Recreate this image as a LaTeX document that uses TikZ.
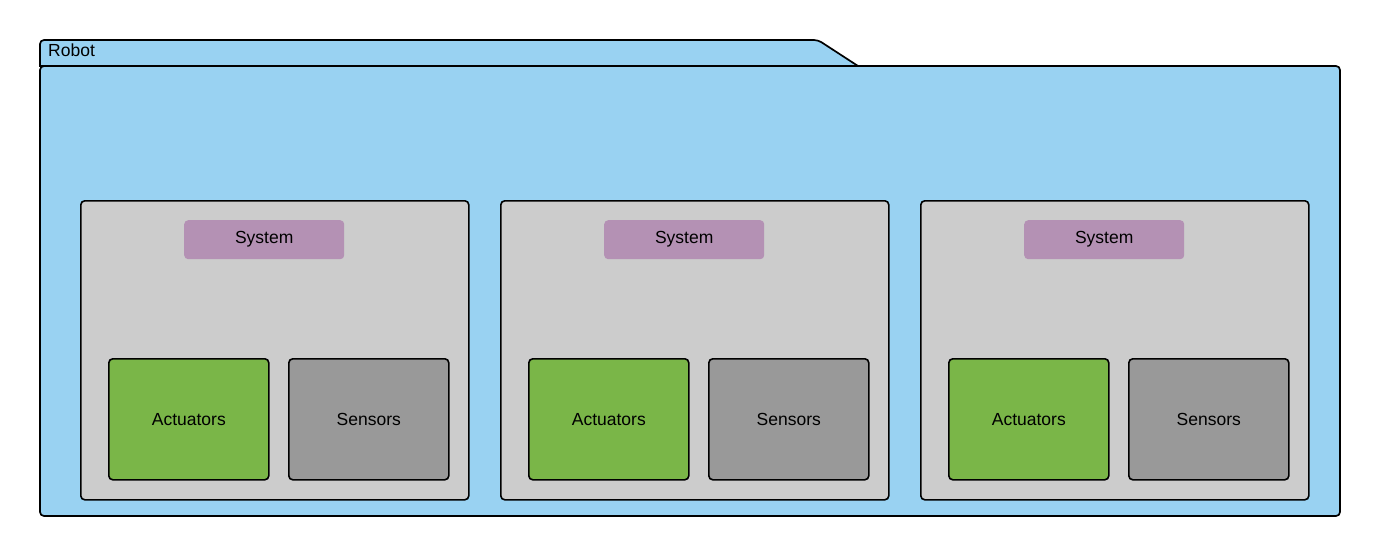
\documentclass[tikz,border=0pt]{standalone}
\usepackage{fontspec}
\setmainfont{Liberation Sans}
\usetikzlibrary{positioning}

\definecolor{robotblue}{HTML}{99D2F2}
\definecolor{panelgray}{HTML}{CCCCCC}
\definecolor{systempurple}{HTML}{B491B4}
\definecolor{actgreen}{HTML}{7AB648}
\definecolor{sensgray}{HTML}{999999}

\tikzset{
    panel/.style={draw, line width=1.6pt, fill=panelgray, rounded corners=4pt,
        minimum width=388pt, minimum height=299pt, inner sep=0pt, anchor=north west},
    sysbox/.style={fill=systempurple, rounded corners=4pt,
        minimum width=160pt, minimum height=39pt, inner sep=0pt, anchor=north west},
    partbox/.style={draw, line width=1.6pt, rounded corners=4pt,
        minimum width=160pt, minimum height=121pt, inner sep=0pt, anchor=north west,
        text depth=0pt, yshift=0pt}
}

\begin{document}
\begin{tikzpicture}[x=1pt, y=-1pt, font=\fontsize{17.5}{21}\selectfont]
    \useasboundingbox (0,0) rectangle (1380,556);

    % Folder body of the robot
    \draw[line width=1.7pt, fill=robotblue, rounded corners=4pt]
        (40,66) rectangle (1340,516);
    % Folder tab
    \draw[line width=1.7pt, fill=robotblue]
        (40,66) [rounded corners=4pt] -- (40,40) -- (818,40)
        [sharp corners] -- (858,66) -- cycle;
    \node[anchor=west, inner sep=0pt] (robot) at (48,50) {Robot};

    % One panel per system
    \foreach \i/\dx in {1/0, 2/420, 3/840} {
        \node[panel] (panel\i) at (80+\dx,200) {};
        \node[sysbox] (system\i) at (184+\dx,220) {System};
        \node[partbox, fill=actgreen] (act\i) at (108+\dx,358) {Actuators};
        \node[partbox, fill=sensgray, right=18.4pt of act\i] (sens\i) {Sensors};
    }
\end{tikzpicture}
\end{document}
